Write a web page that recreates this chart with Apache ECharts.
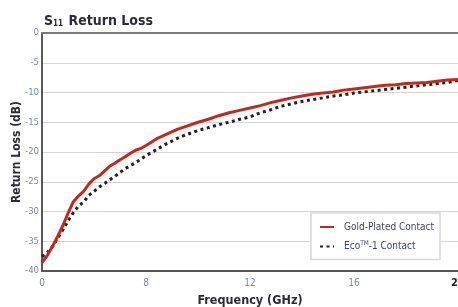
<!DOCTYPE html>
<html>
<head>
<meta charset="utf-8">
<script src="https://cdn.jsdelivr.net/npm/echarts@6/dist/echarts.min.js"></script>
<style>html,body{margin:0;padding:0;background:#fff;}#c{width:458px;height:307px;}</style>
</head>
<body>
<div id="c"></div>
<script>
var FONT = '"Liberation Sans Narrow", "DejaVu Sans Condensed", sans-serif';
var xTickLabels = ['0', '8', '12', '16', '20'];
var yTickLabels = ['0', '-5', '-10', '-15', '-20', '-25', '-30', '-35', '-40'];
var goldFreq = [0,0.25,0.5,0.75,1,1.25,1.5,1.75,2,2.25,2.5,2.75,3,3.25,3.5,3.75,4,4.25,4.5,4.75,5,5.5,6,6.5,7,7.5,8,8.5,9,9.5,10,10.5,11,11.5,12,12.5,13,13.5,14,14.5,15,15.5,16,16.5,17,17.5,18,18.5,19,19.5,20];
var goldLoss = [-38.6,-37.4,-35.9,-34.2,-32.4,-30.3,-28.4,-27.4,-26.6,-25.4,-24.5,-24.0,-23.2,-22.4,-21.9,-21.3,-20.8,-20.2,-19.7,-19.4,-18.9,-17.8,-17.0,-16.2,-15.6,-15.0,-14.5,-13.9,-13.4,-13.0,-12.6,-12.2,-11.7,-11.3,-10.9,-10.6,-10.3,-10.1,-9.9,-9.6,-9.4,-9.2,-9.0,-8.8,-8.7,-8.5,-8.4,-8.3,-8.1,-7.9,-7.8];
var ecoFreq = [0,0.25,0.5,0.75,1,1.25,1.5,1.75,2,2.25,2.5,2.75,3,3.5,4,4.5,5,5.5,6,6.5,7,7.5,8,8.5,9,9.5,10,10.5,11,11.5,12,12.5,13,13.5,14,14.5,15,15.5,16,16.5,17,17.5,18,18.5,19,19.5,20];
var ecoLoss = [-37.6,-36.9,-35.9,-34.5,-33.1,-31.6,-30.2,-29.1,-28.4,-27.3,-26.6,-25.9,-25.3,-24.1,-22.8,-21.8,-20.6,-19.6,-18.6,-17.7,-17.0,-16.4,-15.9,-15.4,-15.0,-14.5,-14.1,-13.4,-12.9,-12.3,-11.9,-11.5,-11.2,-10.9,-10.6,-10.4,-10.1,-9.9,-9.7,-9.5,-9.3,-9.1,-8.9,-8.7,-8.5,-8.3,-8.0];
var seriesNames = ['Gold-Plated Contact', 'Eco™-1 Contact'];

function pairs(xs, ys) { return xs.map(function (x, i) { return [x, ys[i]]; }); }

var chart = echarts.init(document.getElementById('c'), null, {renderer: 'canvas'});
chart.setOption({
  animation: false,
  backgroundColor: '#fff',
  title: {
    text: '{b|S}{s|11}{b| Return Loss}',
    left: 39, top: 9,
    textStyle: {
      rich: {
        b: {fontFamily: FONT, fontWeight: 'bold', fontSize: 14, color: '#2b2b33'},
        s: {fontFamily: FONT, fontWeight: 'bold', fontSize: 8, color: '#2b2b33', verticalAlign: 'bottom', padding: [5, 1, 0, 0]}
      }
    }
  },
  grid: {left: 42, right: 0, top: 33, bottom: 36, containLabel: false, outerBoundsMode: 'none'},
  legend: {
    orient: 'vertical',
    left: 311, top: 213,
    padding: [9, 6, 8, 8],
    itemGap: 8,
    itemWidth: 14, itemHeight: 4,
    backgroundColor: '#fff',
    borderColor: '#d8d8d8', borderWidth: 1.5,
    itemStyle: {opacity: 0},
    data: seriesNames,
    formatter: function (n) { return n === seriesNames[1] ? 'Eco{sup|TM}-1 Contact' : n; },
    textStyle: {
      fontFamily: FONT, fontSize: 10, color: '#3a3f6e', padding: [0, 0, 0, 5],
      rich: {sup: {fontFamily: FONT, fontSize: 6.5, color: '#3a3f6e', verticalAlign: 'top', padding: [0, 0, 6, 0]}}
    }
  },
  xAxis: [{
    type: 'value', min: 0, max: 20, interval: 5,
    name: 'Frequency (GHz)', nameLocation: 'middle', nameGap: 23, nameMoveOverlap: false,
    nameTextStyle: {fontFamily: FONT, fontWeight: 'bold', fontSize: 12.5, color: '#2b2b33'},
    axisLine: {show: true, onZero: false, lineStyle: {color: '#555', width: 2}},
    axisTick: {show: false},
    splitLine: {show: false},
    axisLabel: {
      margin: 7, fontFamily: FONT, fontSize: 10, color: '#7d88a0',
      formatter: function (v) {
        var i = Math.round(v / 5);
        return i === xTickLabels.length - 1 ? '{last|' + xTickLabels[i] + '}' : xTickLabels[i];
      },
      rich: {last: {fontFamily: FONT, fontSize: 11, fontWeight: 'bold', color: '#1a1a1a'}}
    }
  }, {
    type: 'value', min: 0, max: 20, position: 'top',
    axisLine: {show: true, onZero: false, lineStyle: {color: '#7a7a7a', width: 2}},
    axisTick: {show: false}, axisLabel: {show: false}, splitLine: {show: false}
  }],
  yAxis: {
    type: 'value', min: -40, max: 0, interval: 5,
    name: 'Return Loss (dB)', nameLocation: 'middle', nameGap: 19, nameRotate: 90, nameMoveOverlap: false,
    nameTextStyle: {fontFamily: FONT, fontWeight: 'bold', fontSize: 12, color: '#2b2b33'},
    axisLine: {show: true, onZero: false, lineStyle: {color: '#222', width: 1.5}},
    axisTick: {show: false},
    splitLine: {show: true, lineStyle: {color: '#d4d4d4', width: 1}},
    axisLabel: {
      margin: 3, fontFamily: FONT, fontSize: 9.5, color: '#7d88a0',
      formatter: function (v) { return yTickLabels[Math.round(-v / 5)]; }
    }
  },
  series: [{
    name: seriesNames[0], type: 'line', showSymbol: false, symbol: 'none',
    data: pairs(goldFreq, goldLoss), z: 3,
    lineStyle: {color: '#c4281c', width: 3},
    itemStyle: {color: '#c4281c'}
  }, {
    name: seriesNames[1], type: 'line', showSymbol: false, symbol: 'none',
    data: pairs(ecoFreq, ecoLoss), z: 2,
    lineStyle: {color: '#222', width: 3, type: [3, 3.5]},
    itemStyle: {color: '#222'}
  }]
});
</script>
</body>
</html>
